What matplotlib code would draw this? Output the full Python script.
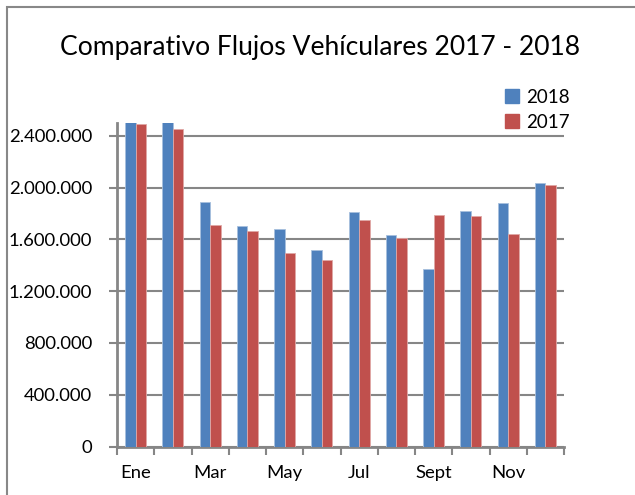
import matplotlib
matplotlib.use("Agg")
import matplotlib.pyplot as plt
import numpy as np
from matplotlib.ticker import FuncFormatter, FixedLocator
from matplotlib.patches import Rectangle, Patch

months = ["Ene", "Feb", "Mar", "Abr", "May", "Jun", "Jul", "Ago", "Sept", "Oct", "Nov", "Dic"]
shown_labels = ["Ene", "", "Mar", "", "May", "", "Jul", "", "Sept", "", "Nov", ""]
v2018 = [2530000, 2520000, 1888000, 1705000, 1682000, 1515000, 1813000, 1631000, 1368000, 1821000, 1880000, 2037000]
v2017 = [2490000, 2452000, 1710000, 1662000, 1492000, 1438000, 1749000, 1610000, 1790000, 1785000, 1646000, 2019000]
y_ticks = [0, 400000, 800000, 1200000, 1600000, 2000000, 2400000]

W, H = 635, 495
fig = plt.figure(figsize=(W / 100, H / 100), dpi=100)
font = "Lato"
plt.rcParams["font.family"] = [font, "DejaVu Sans"]

left, right, top, bottom = 117, 564, 123, 446.5
ax = fig.add_axes([left / W, 1 - bottom / H, (right - left) / W, (bottom - top) / H])

blue = "#4F81BD"
red = "#C0504D"
grid_c = "#868686"

x = np.arange(len(months))
w = 0.28
ax.bar(x - w / 2, v2018, width=w, color=blue, edgecolor="#A7C0DE", linewidth=0.6, label="2018", zorder=3)
ax.bar(x + w / 2, v2017, width=w, color=red, edgecolor="#E0A8A6", linewidth=0.6, label="2017", zorder=3)

ax.set_xlim(-0.5, len(months) - 0.5)
ax.set_ylim(0, 2500000)

ax.yaxis.set_major_locator(FixedLocator(y_ticks))
ax.yaxis.set_major_formatter(FuncFormatter(lambda v, p: f"{int(v):,}".replace(",", ".")))
ax.grid(axis="y", color=grid_c, linewidth=1.5, zorder=0)
ax.set_axisbelow(True)

ax.set_xticks(np.arange(-0.5, len(months), 1))
ax.set_xticklabels([])
ax.set_xticks(x, minor=True)
ax.set_xticklabels(shown_labels, minor=True)
ax.tick_params(axis="x", which="major", length=6, width=1.5, color=grid_c, direction="out")
ax.tick_params(axis="x", which="minor", length=0, pad=13, labelsize=13.3)
ax.tick_params(axis="y", length=6, width=1.5, color=grid_c, pad=12, labelsize=13.3)

for s in ["top", "right"]:
    ax.spines[s].set_visible(False)
for s in ["left", "bottom"]:
    ax.spines[s].set_color(grid_c)
    ax.spines[s].set_linewidth(2)

fig.text(320 / W, 1 - 47 / H, "Comparativo Flujos Vehículares 2017 - 2018", ha="center", va="center", fontsize=19.1)

handles = [Patch(color=blue, label="2018"), Patch(color=red, label="2017")]
fig.legend(handles=handles, loc="upper left", bbox_to_anchor=(488 / W, 1 - 72 / H), frameon=False,
           fontsize=13.5, handlelength=0.75, handleheight=0.75, handletextpad=0.4, labelspacing=0.42)

fig.patches.append(Rectangle((7 / W, -0.1), 1.2, 1 - 7 / H + 0.1, transform=fig.transFigure,
                             fill=False, edgecolor="#888888", linewidth=1.5))

fig.savefig("out.png", dpi=100)
